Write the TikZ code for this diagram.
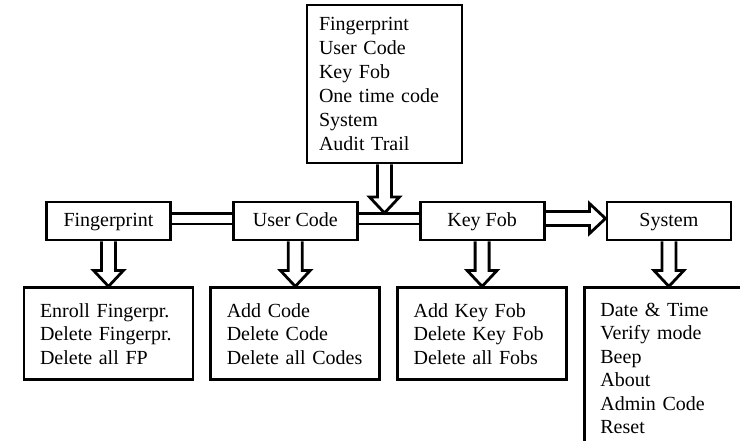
\documentclass[tikz,border=0pt]{standalone}
\usepackage{fontspec}
\setmainfont{Liberation Serif}
\usetikzlibrary{positioning, calc}
\tikzstyle{block} = [draw, line width=1.4pt, rectangle, font=\fontsize{10}{11.75}\selectfont, inner sep=0pt]
\tikzstyle{menu} = [block, minimum width=62pt, minimum height=19pt, text height=7pt, text depth=2pt]
\tikzstyle{list} = [block, minimum width=84.5pt, minimum height=46pt, text width=68.5pt, align=left]
\tikzstyle{bus} = [double, double distance=4pt, line width=1.4pt]
\tikzstyle{hollow} = [line width=1.4pt, line join=miter]
\newcommand*{\downblock}[2]{%
    \draw [hollow] let \p1=(#1), \p2=(#2) in
        (\x1-3.5pt,\y1) -- (\x1-3.5pt,\y2+8pt) -- (\x1-7.5pt,\y2+8pt) -- (\x1,\y2)
        -- (\x1+7.5pt,\y2+8pt) -- (\x1+3.5pt,\y2+8pt) -- (\x1+3.5pt,\y1);
}
\newcommand*{\rightblock}[2]{%
    \draw [hollow] let \p1=(#1), \p2=(#2) in
        (\x1,\y1+3.5pt) -- (\x2-8pt,\y1+3.5pt) -- (\x2-8pt,\y1+7.5pt) -- (\x2,\y1)
        -- (\x2-8pt,\y1-7.5pt) -- (\x2-8pt,\y1-3.5pt) -- (\x1,\y1-3.5pt);
}

\begin{document}
\begin{tikzpicture}[x=0.5pt, y=0.5pt, node distance=22.5pt and 30pt]
    % Frame.
    \useasboundingbox (0,0) rectangle (740,-440);
    \clip (0,0) rectangle (740,-440);

    % Menus.
    \node (menu 1) [menu] at (108.5,-221) {Fingerprint};
    \node (menu 2) [menu, right=of menu 1] {User Code};
    \node (menu 3) [menu, right=of menu 2] {Key Fob};
    \node (menu 4) [menu, right=of menu 3] {System};

    % Main menu.
    \node (main) [block, minimum width=77.5pt, minimum height=79pt, text width=65.5pt,
        inner xsep=6pt, align=left, font=\fontsize{10}{12}\selectfont] at (384.5,-84)
        {Fingerprint\\User Code\\Key Fob\\One time code\\System\\Audit Trail};

    % Submenus.
    \node (list 1) [list, below=of menu 1] {Enroll Fingerpr.\\Delete Fingerpr.\\Delete all FP};
    \node (list 2) [list, below=of menu 2] {Add Code\\Delete Code\\Delete all Codes};
    \node (list 3) [list, below=of menu 3] {Add Key Fob\\Delete Key Fob\\Delete all Fobs};
    \node (list 4) [list, below=of menu 4, minimum height=80.5pt]
        {Date \& Time\\Verify mode\\Beep\\About\\Admin Code\\Reset};

    % Horizontal links.
    \draw [bus] ([yshift=1.25pt]menu 1.east) -- ([yshift=1.25pt]menu 2.west);
    \draw [bus] ([yshift=1.25pt]menu 2.east) -- ([yshift=1.25pt]menu 3.west);
    \rightblock{[yshift=1.25pt]menu 3.east}{menu 4.west}

    % Vertical arrows.
    \coordinate (join) at ($(main.south |- menu 2.east) + (0,4pt)$);
    \downblock{main.south}{join}
    \foreach \i in {1, ..., 4} {%
        \downblock{menu \i.south}{list \i.north}
    }
\end{tikzpicture}
\end{document}
